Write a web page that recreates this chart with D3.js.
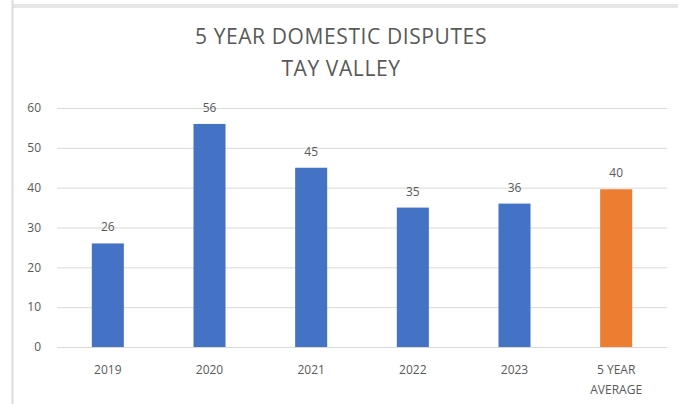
<!DOCTYPE html>
<html>
<head>
<meta charset="utf-8">
<script src="https://cdn.jsdelivr.net/npm/d3@7"></script>
<style>
  body { margin: 0; background: #fff; }
  svg text { font-family: "Open Sans", "Noto Sans", sans-serif; fill: #595959; }
</style>
</head>
<body>
<div class="chart-container"></div>
<script>
// chart data
var categories = ["2019", "2020", "2021", "2022", "2023", "5 YEAR AVERAGE"];
var values = [26, 56, 45, 35, 36, 39.6];
var valueLabels = ["26", "56", "45", "35", "36", "40"];
var barColors = ["#4472C4", "#4472C4", "#4472C4", "#4472C4", "#4472C4", "#ED7D31"];
var yTicks = [0, 10, 20, 30, 40, 50, 60];
var titleLines = ["5 YEAR DOMESTIC DISPUTES", "TAY VALLEY"];

var W = 678, H = 404;
var margin = {top: 108, right: 11, bottom: 57, left: 57},
    width = W - margin.left - margin.right,
    height = H - margin.top - margin.bottom;

var svg = d3.select(".chart-container").append("svg")
    .attr("width", W)
    .attr("height", H);

// frame bits left over from the screenshot
svg.append("rect")
    .attr("x", 12).attr("y", 4)
    .attr("width", W - 12).attr("height", 4)
    .attr("fill", "#e6e6e6");
svg.append("line")
    .attr("x1", 12.5).attr("x2", 12.5)
    .attr("y1", 0).attr("y2", H)
    .attr("stroke", "#dcdcdc")
    .attr("stroke-width", 2);

// title
svg.append("g").selectAll("text")
    .data(titleLines)
  .enter().append("text")
    .attr("x", 341)
    .attr("y", function(d, i) { return 44 + i * 32; })
    .attr("text-anchor", "middle")
    .style("font-size", "21px")
    .style("letter-spacing", "0.6px")
    .text(function(d) { return d; });

var g = svg.append("g")
    .attr("transform", "translate(" + margin.left + "," + margin.top + ")");

var x = d3.scaleBand()
    .domain(categories)
    .range([0, width])
    .paddingInner(0.685)
    .paddingOuter(0.3425);

var y = d3.scaleLinear()
    .domain([0, 60])
    .range([height, 0]);

// gridlines
g.append("g")
    .call(d3.axisLeft(y).tickValues(yTicks).tickSize(-width).tickFormat(""))
    .call(function(a) { a.select(".domain").remove(); })
    .selectAll("line")
    .attr("stroke", "#d9d9d9");

// y labels
g.append("g").selectAll("text")
    .data(yTicks)
  .enter().append("text")
    .attr("x", -16)
    .attr("y", function(d) { return y(d); })
    .attr("dy", "0.35em")
    .attr("text-anchor", "end")
    .style("font-size", "12px")
    .text(function(d) { return d; });

// bars
g.selectAll(".bar")
    .data(values)
  .enter().append("rect")
    .attr("class", "bar")
    .attr("x", function(d, i) { return x(categories[i]); })
    .attr("width", x.bandwidth())
    .attr("y", function(d) { return y(d); })
    .attr("height", function(d) { return height - y(d); })
    .attr("fill", function(d, i) { return barColors[i]; });

// value labels
g.selectAll(".val")
    .data(values)
  .enter().append("text")
    .attr("class", "val")
    .attr("x", function(d, i) { return x(categories[i]) + x.bandwidth() / 2; })
    .attr("y", function(d) { return y(d) - 12; })
    .attr("text-anchor", "middle")
    .style("font-size", "12px")
    .text(function(d, i) { return valueLabels[i]; });

// x labels, "5 YEAR AVERAGE" wraps onto two lines
var xl = g.append("g").selectAll("text")
    .data(categories)
  .enter().append("text")
    .attr("x", function(d) { return x(d) + x.bandwidth() / 2; })
    .attr("y", height + 27)
    .attr("text-anchor", "middle")
    .style("font-size", "12px");

xl.each(function(d) {
  var words = d === "5 YEAR AVERAGE" ? ["5 YEAR", "AVERAGE"] : [d];
  var t = d3.select(this);
  words.forEach(function(w, i) {
    t.append("tspan")
      .attr("x", t.attr("x"))
      .attr("dy", i === 0 ? 0 : 20)
      .text(w);
  });
});
</script>
</body>
</html>
